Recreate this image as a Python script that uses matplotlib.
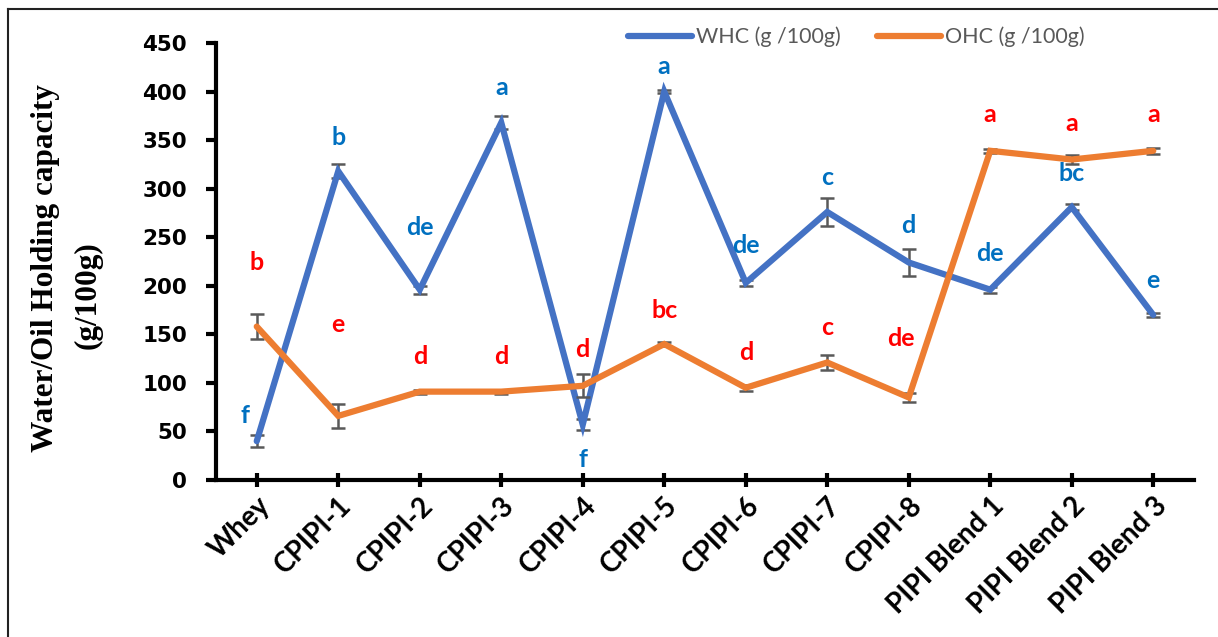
import matplotlib.pyplot as plt
import numpy as np
from matplotlib.lines import Line2D

samples = ["Whey", "CPIPI-1", "CPIPI-2", "CPIPI-3", "CPIPI-4", "CPIPI-5",
           "CPIPI-6", "CPIPI-7", "CPIPI-8", "PIPI Blend 1", "PIPI Blend 2", "PIPI Blend 3"]

whc = [40, 318, 196, 368, 57, 400, 203, 276, 224, 196, 281, 170]
whc_err = [6, 7, 4, 7, 6, 2, 3, 14, 14, 3, 3, 2]
whc_letters = ["f", "b", "de", "a", "f", "a", "de", "c", "d", "de", "bc", "e"]

ohc = [158, 66, 91, 91, 97, 140, 95, 121, 85, 339, 330, 339]
ohc_err = [13, 12, 2, 2, 12, 2, 3, 8, 5, 2, 5, 3]
ohc_letters = ["b", "e", "d", "d", "d", "bc", "d", "c", "de", "a", "a", "a"]

# label placement relative to each point (category units, data units)
whc_dx = [-0.15, 0, 0, 0, 0, 0, 0, 0, 0, 0, 0, 0]
whc_dy = [26, 35, 64, 36, -36, 26, 38, 36, 38, 37, 35, 35]
ohc_dx = [0, 0, 0, 0, 0, 0, 0, 0, -0.1, 0, 0, 0]
ohc_dy = [66, 94, 36, 36, 37, 35, 36, 36, 61, 37, 37, 37]

BLUE = "#4472C4"
ORANGE = "#ED7D31"
LBL_BLUE = "#0070C0"
LBL_RED = "#FF0000"
ERR = "#595959"

fig = plt.figure(figsize=(12.18, 6.37), dpi=100)
ax = fig.add_axes([216 / 1218, 157 / 637, 978 / 1218, 437 / 637])

x = np.arange(len(samples))

for vals, errs, col, z in [(whc, whc_err, BLUE, 3), (ohc, ohc_err, ORANGE, 4)]:
    ax.errorbar(x, vals, yerr=errs, fmt="none", ecolor=ERR, elinewidth=1.8,
                capsize=5, capthick=1.8, zorder=z - 0.5)
    ax.plot(x, vals, color=col, lw=4.5, solid_capstyle="round",
            solid_joinstyle="miter", zorder=z)

for i in x:
    ax.text(i + whc_dx[i], whc[i] + whc_dy[i], whc_letters[i], color=LBL_BLUE,
            fontsize=18, fontweight="bold", family="Lato", ha="center", va="center", zorder=6)
    ax.text(i + ohc_dx[i], ohc[i] + ohc_dy[i], ohc_letters[i], color=LBL_RED,
            fontsize=18, fontweight="bold", family="Lato", ha="center", va="center", zorder=6)

ax.set_xlim(-0.5, len(samples) - 0.5)
ax.set_ylim(0, 450)
ax.set_yticks(np.arange(0, 451, 50))
ax.set_xticks(x)
ax.set_xticklabels(samples, rotation=45, ha="right", rotation_mode="anchor",
                   fontsize=20, fontweight="bold", family="Lato")
for lab in ax.get_yticklabels():
    lab.set_fontsize(15.5)
    lab.set_fontweight("bold")

for side in ["top", "right"]:
    ax.spines[side].set_visible(False)
for side in ["left", "bottom"]:
    ax.spines[side].set_linewidth(3)
ax.tick_params(axis="y", direction="out", length=7, width=3, pad=14)
ax.tick_params(axis="x", direction="inout", length=10, width=3, pad=4)

# axis title in two lines
fig.text(45 / 1218, 1 - 268 / 637, "Water/Oil Holding capacity", rotation=90,
         ha="center", va="center", fontsize=22.5, fontweight="bold", family="Liberation Serif")
fig.text(88 / 1218, 1 - 295 / 637, "(g/100g)", rotation=90,
         ha="center", va="center", fontsize=22.5, fontweight="bold", family="Liberation Serif")

handles = [Line2D([], [], color=BLUE, lw=4.5, solid_capstyle="round"),
           Line2D([], [], color=ORANGE, lw=4.5, solid_capstyle="round")]
leg = ax.legend(handles, ["WHC (g /100g)", "OHC (g /100g)"], ncol=2, frameon=False,
                loc="center", bbox_to_anchor=((856 - 216) / 978, 1.014), handlelength=3.0,
                handletextpad=0.15, columnspacing=1.7, prop={"family": "Lato", "size": 15.5})
for t in leg.get_texts():
    t.set_color(ERR)

# outer frame edges
fig.add_artist(Line2D([8 / 1218, 8 / 1218], [0, 1 - 9 / 637], transform=fig.transFigure,
                      color="#222222", lw=1.5))
fig.add_artist(Line2D([8 / 1218, 1], [1 - 9 / 637, 1 - 9 / 637], transform=fig.transFigure,
                      color="#222222", lw=1.5))

fig.savefig("out.png", dpi=100)
